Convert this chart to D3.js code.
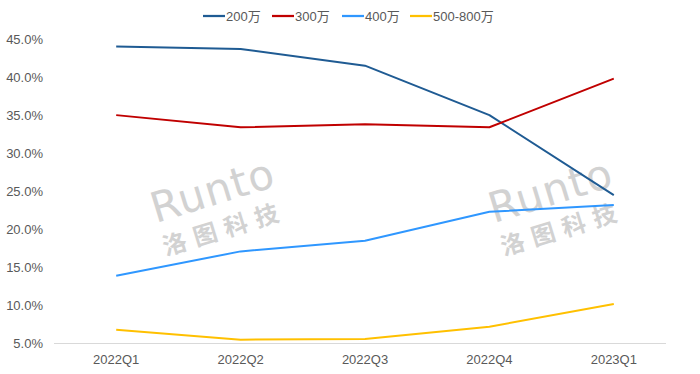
<!DOCTYPE html>
<html>
<head>
<meta charset="utf-8">
<script src="https://cdn.jsdelivr.net/npm/d3@7"></script>
<style>
  body { margin: 0; background: #fff; }
  text { font-family: "Liberation Sans Narrow", "Liberation Sans", "Noto Sans CJK SC", sans-serif; }
</style>
</head>
<body>
<script>
// data
const quarters = ["2022Q1", "2022Q2", "2022Q3", "2022Q4", "2023Q1"];
const seriesNames = ["200万", "300万", "400万", "500-800万"];
const s200 = [44.0, 43.7, 41.5, 35.0, 24.5];
const s300 = [35.0, 33.4, 33.8, 33.4, 39.8];
const s400 = [13.9, 17.1, 18.5, 22.3, 23.2];
const s500 = [6.8, 5.5, 5.6, 7.2, 10.2];
const yTicks = [5, 10, 15, 20, 25, 30, 35, 40, 45];
const colors = ["#1f5b93", "#c00000", "#2f97ff", "#ffc000"];

const w = 700;
const h = 374;

const svg = d3.select("body").append("svg").attr("width", w).attr("height", h);

const xScale = d3.scaleBand().domain(quarters).range([54, 676]);
const yScale = d3.scaleLinear().domain([5, 45]).range([343.5, 39]);

// watermarks
function watermark(cx, cy) {
  const g = svg.append("g")
    .attr("transform", "translate(" + cx + "," + cy + ") rotate(-17)")
    .attr("fill", "#d2d2d2");
  g.append("text").attr("x", -62).attr("y", 0)
    .style("font-family", "DejaVu Sans, sans-serif")
    .style("font-size", "42px").style("letter-spacing", "1px")
    .text("Runto");
  g.append("text").attr("x", -62).attr("y", 34)
    .style("font-family", "Noto Sans CJK SC, sans-serif")
    .style("font-size", "24px").style("font-weight", "bold").style("letter-spacing", "8px")
    .text("洛图科技");
}
watermark(215, 205);
watermark(553, 205);

// baseline
svg.append("line")
  .attr("x1", 54).attr("x2", 666)
  .attr("y1", yScale(5)).attr("y2", yScale(5))
  .attr("stroke", "#d9d9d9").attr("stroke-width", 1);

// axes
const yAxis = d3.axisLeft(yScale).tickValues(yTicks).tickSize(0)
  .tickFormat((d) => d3.format(".1f")(d) + "%");
svg.append("g")
  .attr("transform", "translate(46,0)")
  .call(yAxis)
  .call((g) => g.select(".domain").remove())
  .selectAll("text")
  .attr("fill", "#595959").style("font-size", "13px").attr("dx", 0);

const xAxis = d3.axisBottom(xScale).tickSize(0);
svg.append("g")
  .attr("transform", "translate(0," + yScale(5) + ")")
  .call(xAxis)
  .call((g) => g.select(".domain").remove())
  .selectAll("text")
  .attr("fill", "#595959").style("font-size", "13px").attr("dy", "1.35em");

// lines
const allSeries = [s200, s300, s400, s500];
const line = d3.line()
  .x((d, i) => xScale(quarters[i]) + xScale.bandwidth() / 2)
  .y((d) => yScale(d));

svg.selectAll(".series")
  .data(allSeries)
  .enter()
  .append("path")
  .attr("class", "series")
  .attr("d", (d) => line(d))
  .attr("fill", "none")
  .attr("stroke", (d, i) => colors[i])
  .attr("stroke-width", 2)
  .attr("stroke-linejoin", "round");

// legend
const legendX = [203, 272, 342, 410];
const legend = svg.selectAll(".legend")
  .data(seriesNames)
  .enter()
  .append("g")
  .attr("class", "legend")
  .attr("transform", (d, i) => "translate(" + legendX[i] + ",16)");
legend.append("line")
  .attr("x1", 0).attr("x2", 22)
  .attr("stroke", (d, i) => colors[i]).attr("stroke-width", 2.25);
legend.append("text")
  .attr("x", 23).attr("dy", "0.35em")
  .attr("fill", "#595959").style("font-size", "13px")
  .text((d) => d);
</script>
</body>
</html>
